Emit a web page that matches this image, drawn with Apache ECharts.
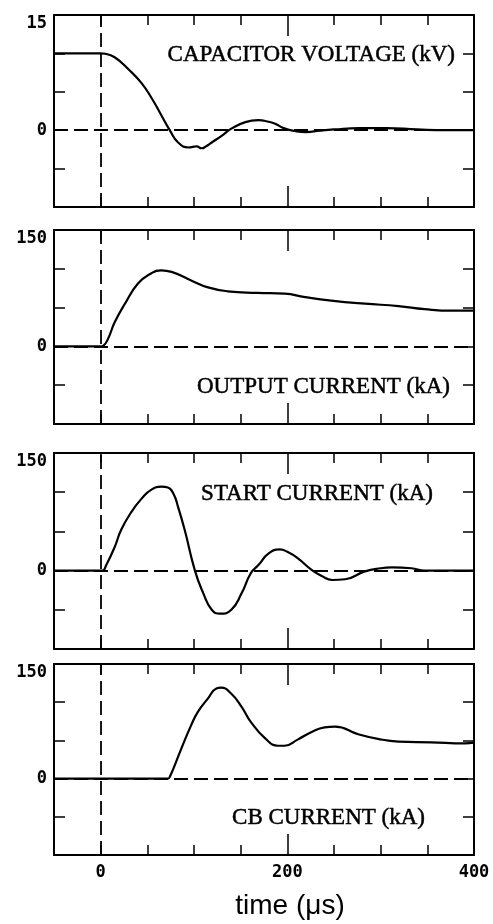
<!DOCTYPE html>
<html>
<head>
<meta charset="utf-8">
<script src="https://cdn.jsdelivr.net/npm/echarts@6/dist/echarts.min.js"></script>
<style>
html,body{margin:0;padding:0;background:#fff;}
#c{width:493px;height:924px;}
</style>
</head>
<body>
<div id="c"></div>
<script>
// ---- data (time in µs) ----
const capT = [-50, 0, 5, 15, 30, 44, 55, 65, 74, 83, 94, 100, 103, 108, 113, 119, 130, 140, 155, 169, 180, 187, 196, 208, 220, 235, 250, 277, 306, 339, 370, 400];
const capV = [10.0, 10.0, 9.95, 9.5, 7.9, 6.1, 4.1, 1.95, 0, -1.6, -2.25, -2.15, -2.1, -2.35, -2.1, -1.6, -0.7, 0.2, 1.05, 1.3, 1.1, 0.85, 0.27, -0.1, -0.25, -0.05, 0.1, 0.27, 0.27, 0.1, 0.0, 0.0];

const outT = [-50, 0, 3, 8, 15, 26, 40, 54, 65, 76, 97, 115, 136, 168, 197, 219, 247, 283, 319, 347, 376, 400];
const outV = [0, 0, 1, 10, 31, 55, 81, 94, 98, 96, 85, 76, 71, 69, 68, 63.5, 59, 55, 52, 48, 46, 46];

const startT = [-50, 0, 2, 6, 15, 22, 33, 44, 54, 65, 72, 78, 83, 90, 101, 110, 119, 128, 140, 151, 161, 169, 180, 192, 200, 211, 226, 237, 248, 262, 283, 300, 312, 333, 347, 400];
const startV = [0, 0, 0, 7, 30, 52, 75, 92, 103, 107, 106, 98, 81, 52, 0, -29, -50, -55, -50, -29, -3, 7, 22, 27, 24, 16, 1, -7, -12, -11, -1, 3, 4, 3, 0, 0];

const cbT = [-50, 0, 72, 74, 86, 97, 104, 115, 124, 129, 140, 151, 161, 176, 190, 197, 211, 226, 240, 251, 276, 297, 319, 354, 390, 400];
const cbV = [0, 0, 0, 2, 38, 70, 87, 105, 118, 119, 111, 94, 74, 53, 43, 43, 51, 61, 67, 68, 58, 52, 48.5, 47.5, 46, 47];

const panelLabels = ['CAPACITOR VOLTAGE (kV)', 'OUTPUT CURRENT (kA)', 'START CURRENT (kA)', 'CB CURRENT (kA)'];
const yMins = [-10, -100, -100, -100];
const yMaxs = [15, 150, 150, 150];
const yIntervals = [5, 50, 50, 50];
const xMin = -50, xMax = 400, xInterval = 50;
const xTickLabels = [0, 200, 400];
const xLongTick = [200];
const xTitle = 'time (\u03bcs)';

// ---- layout ----
const grids = [
  {top: 15, height: 192},
  {top: 230, height: 194},
  {top: 453, height: 196},
  {top: 664, height: 191}
];
const labelPos = [
  {x: 455, y: 55},
  {x: 450, y: 387},
  {x: 433, y: 494},
  {x: 425, y: 818}
];
const seriesData = [[capT, capV], [outT, outV], [startT, startV], [cbT, cbV]];

const monoFont = {fontFamily: 'DejaVu Sans Mono', fontWeight: 'bold', fontSize: 17, color: '#000'};
const lineBlack = {color: '#000', width: 2};

const grid = [], xAxis = [], yAxis = [], series = [], graphic = [];
grids.forEach((g, i) => {
  grid.push({left: 54, right: 19, top: g.top, height: g.height, containLabel: false});
  const isLast = i === grids.length - 1;
  xAxis.push({
    type: 'value', gridIndex: i, position: 'bottom', min: xMin, max: xMax, interval: xInterval,
    axisLine: {show: true, onZero: false, lineStyle: lineBlack},
    axisTick: {show: true, inside: true, length: 10, lineStyle: {color: '#000', width: 1.5}},
    axisLabel: Object.assign({
      show: isLast, interval: 0, margin: 9,
      formatter: v => xTickLabels.indexOf(v) >= 0 ? String(v) : ''
    }, monoFont),
    splitLine: {show: false}
  });
  xAxis.push({
    type: 'value', gridIndex: i, position: 'top', min: xMin, max: xMax, interval: xInterval,
    axisLine: {show: true, onZero: false, lineStyle: lineBlack},
    axisTick: {show: true, inside: true, length: 10, lineStyle: {color: '#000', width: 1.5}},
    axisLabel: {show: false}, splitLine: {show: false}
  });
  xAxis.push({
    type: 'value', gridIndex: i, position: 'bottom', min: xMin, max: xMax,
    axisLine: {show: false, onZero: false},
    axisTick: {show: true, inside: true, length: 21, customValues: xLongTick, lineStyle: {color: '#000', width: 1.5}},
    axisLabel: {show: false}, splitLine: {show: false}
  });
  xAxis.push({
    type: 'value', gridIndex: i, position: 'top', min: xMin, max: xMax,
    axisLine: {show: false, onZero: false},
    axisTick: {show: true, inside: true, length: 21, customValues: xLongTick, lineStyle: {color: '#000', width: 1.5}},
    axisLabel: {show: false}, splitLine: {show: false}
  });
  const ymax = yMaxs[i];
  yAxis.push({
    type: 'value', gridIndex: i, position: 'left', min: yMins[i], max: ymax, interval: yIntervals[i],
    axisLine: {show: true, onZero: false, lineStyle: lineBlack},
    axisTick: {show: true, inside: true, length: 11, lineStyle: {color: '#000', width: 1.5}},
    axisLabel: Object.assign({
      show: true, margin: 7, verticalAlignMaxLabel: 'top',
      formatter: v => (v === ymax || v === 0) ? String(v) : ''
    }, monoFont),
    splitLine: {show: false}
  });
  yAxis.push({
    type: 'value', gridIndex: i, position: 'right', min: yMins[i], max: ymax, interval: yIntervals[i],
    axisLine: {show: true, onZero: false, lineStyle: lineBlack},
    axisTick: {show: true, inside: true, length: 11, lineStyle: {color: '#000', width: 1.5}},
    axisLabel: {show: false}, splitLine: {show: false}
  });
  const [ts, vs] = seriesData[i];
  series.push({
    type: 'line', xAxisIndex: i * 4, yAxisIndex: i * 2,
    data: ts.map((t, k) => [t, vs[k]]),
    showSymbol: false, symbol: 'none', smooth: 0.5,
    lineStyle: {color: '#000', width: 2.2},
    silent: true, animation: false,
    markLine: {
      silent: true, symbol: ['none', 'none'], label: {show: false}, animation: false,
      lineStyle: {color: '#000', width: 1.8, type: [14, 6]},
      data: [{xAxis: 0}, {yAxis: 0}]
    },
    z: 3
  });
  graphic.push({
    type: 'text', x: labelPos[i].x, y: labelPos[i].y,
    style: {text: panelLabels[i], align: 'right', verticalAlign: 'middle',
      font: '23px "Liberation Serif"', fill: '#000', stroke: '#000', lineWidth: 0.5}
  });
});
graphic.push({
  type: 'text', x: 290, y: 906,
  style: {text: xTitle, align: 'center', verticalAlign: 'middle', font: '28px "Liberation Sans"', fill: '#000'}
});

const chart = echarts.init(document.getElementById('c'), null, {renderer: 'canvas'});
chart.setOption({
  animation: false,
  backgroundColor: '#fff',
  grid, xAxis, yAxis, series, graphic
});
</script>
</body>
</html>
